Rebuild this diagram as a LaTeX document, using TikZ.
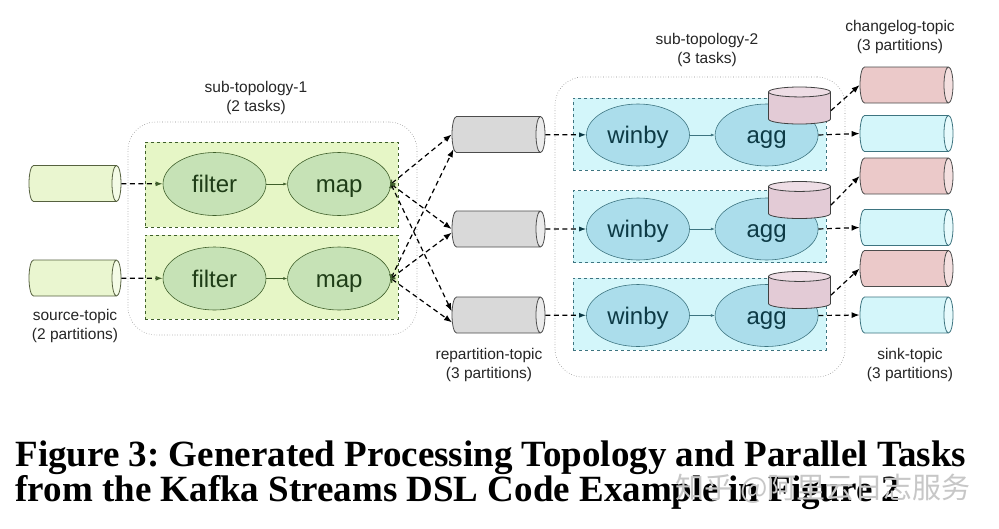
\documentclass[tikz,border=0pt]{standalone}
\usepackage{fontspec}
\setmainfont{Liberation Sans}
\newfontfamily\capfont{Liberation Serif}
\newfontfamily\cjkfont{Noto Sans CJK SC}
\usetikzlibrary{shapes.geometric, arrows.meta, positioning}
\definecolor{srcfill}{HTML}{EAF6D0}
\definecolor{srcend}{HTML}{F4FBE6}
\definecolor{srcdraw}{HTML}{56613F}
\definecolor{greenbox}{HTML}{E6F6C6}
\definecolor{greenline}{HTML}{3F5F2A}
\definecolor{greenproc}{HTML}{C6E2B6}
\definecolor{greentext}{HTML}{1F3D17}
\definecolor{repfill}{HTML}{D9D9D9}
\definecolor{repend}{HTML}{EBEBEB}
\definecolor{cyanbox}{HTML}{D3F6FA}
\definecolor{cyanline}{HTML}{3D7480}
\definecolor{cyanproc}{HTML}{ABDDEB}
\definecolor{cyantext}{HTML}{0D3A45}
\definecolor{storefill}{HTML}{E3CBD6}
\definecolor{storeend}{HTML}{EEDDE5}
\definecolor{chgfill}{HTML}{EBC9C9}
\definecolor{chgend}{HTML}{F4E0E0}
\definecolor{sinkfill}{HTML}{D4F6FA}
\definecolor{sinkend}{HTML}{E8FBFD}
\tikzstyle{topic} = [cylinder, anchor=shape center, aspect=0.25, minimum height=93pt, minimum width=36pt, inner xsep=0pt, inner ysep=18pt, line width=0.8pt, cylinder uses custom fill]
\tikzstyle{srctopic} = [topic, draw=srcdraw, cylinder body fill=srcfill, cylinder end fill=srcend]
\tikzstyle{reptopic} = [topic, draw=black!70, cylinder body fill=repfill, cylinder end fill=repend]
\tikzstyle{chgtopic} = [topic, draw=black!70, cylinder body fill=chgfill, cylinder end fill=chgend]
\tikzstyle{sinktopic} = [topic, draw=cyanline, cylinder body fill=sinkfill, cylinder end fill=sinkend]
\tikzstyle{store} = [cylinder, anchor=shape center, shape border rotate=90, aspect=0.16, minimum height=37pt, minimum width=62pt, inner xsep=31pt, inner ysep=0pt, line width=0.8pt, draw=black!75, cylinder uses custom fill, cylinder body fill=storefill, cylinder end fill=storeend]
\tikzstyle{subtopo} = [rectangle, rounded corners=28pt, draw=black!45, dotted, line width=0.6pt]
\tikzstyle{greentask} = [rectangle, draw=greenline, fill=greenbox, dashed, line width=0.6pt, minimum width=253pt]
\tikzstyle{cyantask} = [rectangle, draw=cyanline, fill=cyanbox, dashed, line width=0.6pt, minimum width=253pt, minimum height=72pt]
\tikzstyle{greenop} = [ellipse, draw=greenline, fill=greenproc, text=greentext, minimum width=103pt, minimum height=63pt, inner sep=0pt, line width=0.6pt, text height=17pt, text depth=0pt, font=\fontsize{24}{28}\selectfont]
\tikzstyle{cyanop} = [ellipse, draw=cyanline, fill=cyanproc, text=cyantext, minimum width=103pt, minimum height=62pt, inner sep=0pt, line width=0.6pt, text height=17pt, text depth=0pt, font=\fontsize{24}{28}\selectfont]
\tikzstyle{grouptext} = [align=center, font=\fontsize{15.5}{19}\selectfont, text=black!85]
\tikzstyle{captext} = [anchor=base west, font=\capfont\bfseries\fontsize{37}{42}\selectfont]
\tikzstyle{arrow} = [line width=1.2pt, dash pattern=on 5pt off 3.5pt]
\tikzstyle{inarrow} = [line width=0.6pt]

\begin{document}
\frenchspacing
\begin{tikzpicture}[x=1pt, y=-1pt]
\useasboundingbox[fill=white] (0,0) rectangle (999,528);

%sub-topology-1
\node(sub1) at (272.5,228.5) [subtopo, minimum width=289pt, minimum height=213pt]{};
\node(sub1txt) at (256,97.5) [grouptext]{sub-topology-1\\(2 tasks)};
\node(task1) at (271.5,184.5) [greentask, minimum height=85pt]{};
\node(task2) at (271.5,277) [greentask, minimum height=84pt]{};
\node(filter1) at (214.5,184) [greenop]{filter};
\node(map1) [greenop, right=21pt of filter1]{map};
\node(filter2) at (214.5,278.5) [greenop]{filter};
\node(map2) [greenop, right=21pt of filter2]{map};

%source-topic
\node(src1) at (75,183.5) [srctopic, minimum height=92pt]{};
\node(src2) at (75,278) [srctopic, minimum height=92pt]{};
\node(srctxt) at (75,326) [grouptext]{source-topic\\(2 partitions)};

%repartition-topic
\node(rep1) at (498.5,134.5) [reptopic]{};
\node(rep2) at (498.5,229) [reptopic]{};
\node(rep3) at (498.5,315) [reptopic]{};
\node(reptxt) at (489,365) [grouptext]{repartition-topic\\(3 partitions)};

%sub-topology-2
\node(sub2) at (700,227) [subtopo, minimum width=290pt, minimum height=300pt]{};
\node(sub2txt) at (707,49.5) [grouptext]{sub-topology-2\\(3 tasks)};
\node(task3) at (699.5,134) [cyantask]{};
\node(task4) at (699.5,226.5) [cyantask]{};
\node(task5) at (699.5,314) [cyantask]{};
\node(winby1) at (638,135) [cyanop]{winby};
\node(agg1) [cyanop, right=25pt of winby1]{agg};
\node(winby2) at (638,229) [cyanop]{winby};
\node(agg2) [cyanop, right=25pt of winby2]{agg};
\node(winby3) at (638,315.5) [cyanop]{winby};
\node(agg3) [cyanop, right=25pt of winby3]{agg};
\node(store1) at (799.5,105.5) [store]{};
\node(store2) at (799.5,200) [store]{};
\node(store3) at (799.5,290) [store]{};

%changelog and sink
\node(chg1) at (906.5,85) [chgtopic]{};
\node(chg2) at (906.5,176) [chgtopic]{};
\node(chg3) at (906.5,268.5) [chgtopic]{};
\node(sink1) at (906.5,133.5) [sinktopic]{};
\node(sink2) at (906.5,227.5) [sinktopic]{};
\node(sink3) at (906.5,315) [sinktopic]{};
\node(chgtxt) at (900,37) [grouptext]{changelog-topic\\(3 partitions)};
\node(sinktxt) at (910,365) [grouptext]{sink-topic\\(3 partitions)};

%caption
\node(cap1) at (12,466) [captext]{Figure 3: Generated Processing Topology and Parallel Tasks};
\node(cap2) at (12,501) [captext]{from the Kafka Streams DSL Code Example in Figure 2};
\node(mark) at (672,489) [anchor=west, text=black!22, font=\cjkfont\fontsize{29}{32}\selectfont]{知乎 @阿里云日志服务};

%arrows
\draw[arrow, -{Latex[length=7pt, width=5pt, color=greenline]}](src1)--(filter1);
\draw[arrow, -{Latex[length=7pt, width=5pt, color=greenline]}](src2)--(filter2);
\draw[inarrow, draw=greenline, -{Latex[length=4pt, width=3pt]}](filter1)--(map1);
\draw[inarrow, draw=greenline, -{Latex[length=4pt, width=3pt]}](filter2)--(map2);
    \draw[arrow, {Straight Barb[length=2.5pt, width=6pt, color=greenline]}-{Latex[length=8pt, width=6pt]}](map1.east)--(rep1.west);
    \draw[arrow, {Straight Barb[length=2.5pt, width=6pt, color=greenline]}-{Latex[length=8pt, width=6pt]}](map1.east)--(rep2.west);
    \draw[arrow, {Straight Barb[length=2.5pt, width=6pt, color=greenline]}-{Latex[length=8pt, width=6pt]}](map1.east)--(rep3.175);
    \draw[arrow, {Straight Barb[length=2.5pt, width=6pt, color=greenline]}-{Latex[length=8pt, width=6pt]}](map2.east)--(rep1.200);
    \draw[arrow, {Straight Barb[length=2.5pt, width=6pt, color=greenline]}-{Latex[length=8pt, width=6pt]}](map2.east)--(rep2.185);
    \draw[arrow, {Straight Barb[length=2.5pt, width=6pt, color=greenline]}-{Latex[length=8pt, width=6pt]}](map2.east)--(rep3.190);
\draw[arrow, -{Latex[length=7pt, width=5pt, color=cyantext]}](rep1)--(winby1);
\draw[arrow, -{Latex[length=7pt, width=5pt, color=cyantext]}](rep2)--(winby2);
\draw[arrow, -{Latex[length=7pt, width=5pt, color=cyantext]}](rep3)--(winby3);
\draw[inarrow, draw=cyanline, -{Latex[length=4pt, width=3pt]}](winby1)--(agg1);
\draw[inarrow, draw=cyanline, -{Latex[length=4pt, width=3pt]}](winby2)--(agg2);
\draw[inarrow, draw=cyanline, -{Latex[length=4pt, width=3pt]}](winby3)--(agg3);
    \draw[arrow, -{Latex[length=8pt, width=6pt]}](agg1.east)--(sink1.west);
    \draw[arrow, -{Latex[length=8pt, width=6pt]}](agg2.east)--(sink2.west);
    \draw[arrow, -{Latex[length=8pt, width=6pt]}](agg3.east)--(sink3.west);
    \draw[arrow, -{Latex[length=8pt, width=6pt]}](store1.east)--(chg1.west);
    \draw[arrow, -{Latex[length=8pt, width=6pt]}](store2.east)--(chg2.west);
    \draw[arrow, -{Latex[length=8pt, width=6pt]}](store3.east)--(chg3.west);
\end{tikzpicture}
\end{document}
